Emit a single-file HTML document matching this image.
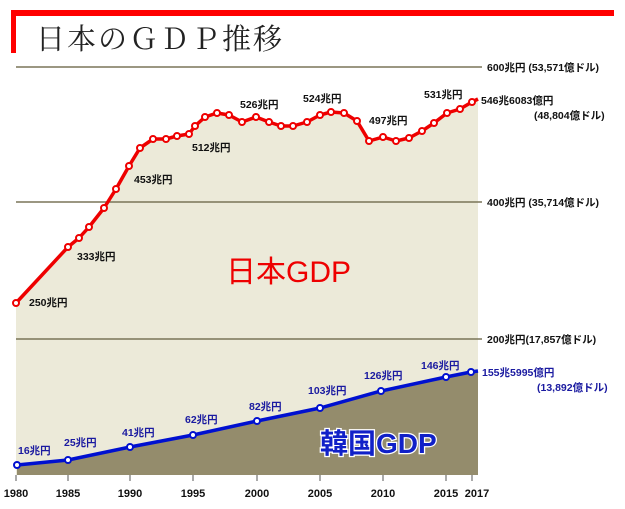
<!DOCTYPE html>
<html><head><meta charset="utf-8"><style>
html,body{margin:0;padding:0;background:#fff;width:625px;height:509px;overflow:hidden}
svg text{font-family:"Liberation Sans","Noto Sans CJK JP",sans-serif}
</style></head><body>
<svg width="625" height="509" viewBox="0 0 625 509" xmlns="http://www.w3.org/2000/svg">
<rect x="11" y="10" width="603" height="6" fill="#f00"/>
<rect x="11" y="10" width="5" height="43" fill="#f00"/>
<text x="36" y="49" font-size="29" fill="#222" style="font-family:'Liberation Serif','Noto Serif CJK SC',serif" letter-spacing="2">日本のＧＤＰ推移</text>
<polygon fill="#ecead9" points="16,303 68,247 79,238 89,227 104,208 116,189 129,166 140,148 153,139 166,139 177,136 189,134 195,126 205,117 217,113 229,115 242,122 256,117 269,122 281,126 293,126 307,122 320,115 331,112 344,113 357,121 369,141 383,137 396,141 409,138 422,131 434,123 447,113 460,109 472,102 478,99 478,475 16,475"/>
<g stroke="#7a7558" stroke-width="1.5">
<line x1="16" y1="67" x2="482" y2="67"/>
<line x1="16" y1="202" x2="482" y2="202"/>
<line x1="16" y1="339" x2="482" y2="339"/>
</g>
<polygon fill="#948c6c" points="17,465 68,460 130,447 193,435 257,421 320,408 381,391 446,377 471,372 478,371 478,475 17,475"/>
<g stroke="#555" stroke-width="1">
<line x1="16" y1="475" x2="16" y2="481"/><line x1="68" y1="475" x2="68" y2="481"/><line x1="130" y1="475" x2="130" y2="481"/><line x1="193" y1="475" x2="193" y2="481"/><line x1="257" y1="475" x2="257" y2="481"/><line x1="320" y1="475" x2="320" y2="481"/><line x1="383" y1="475" x2="383" y2="481"/><line x1="446" y1="475" x2="446" y2="481"/><line x1="472" y1="475" x2="472" y2="481"/>
</g>
<g font-size="11" fill="#111" text-anchor="middle" font-weight="bold">
<text x="16" y="497">1980</text><text x="68" y="497">1985</text><text x="130" y="497">1990</text><text x="193" y="497">1995</text><text x="257" y="497">2000</text><text x="320" y="497">2005</text><text x="383" y="497">2010</text><text x="446" y="497">2015</text><text x="477" y="497">2017</text>
</g>
<g font-size="10.5" fill="#111" font-weight="bold">
<text x="487" y="71">600兆円 (53,571億ドル)</text>
<text x="487" y="206">400兆円 (35,714億ドル)</text>
<text x="487" y="343">200兆円(17,857億ドル)</text>
<text x="481" y="104">546兆6083億円</text>
<text x="534" y="119">(48,804億ドル)</text>
</g>
<g font-size="10.5" fill="#111" font-weight="bold">
<text x="29" y="306">250兆円</text>
<text x="77" y="260">333兆円</text>
<text x="134" y="183">453兆円</text>
<text x="192" y="151">512兆円</text>
<text x="240" y="108">526兆円</text>
<text x="303" y="102">524兆円</text>
<text x="369" y="124">497兆円</text>
<text x="424" y="98">531兆円</text>
</g>
<g font-size="10.5" fill="#1a1aa0" font-weight="bold">
<text x="18" y="454">16兆円</text>
<text x="64" y="446">25兆円</text>
<text x="122" y="436">41兆円</text>
<text x="185" y="423">62兆円</text>
<text x="249" y="410">82兆円</text>
<text x="308" y="394">103兆円</text>
<text x="364" y="379">126兆円</text>
<text x="421" y="369">146兆円</text>
<text x="482" y="376">155兆5995億円</text>
<text x="537" y="391">(13,892億ドル)</text>
</g>
<polyline fill="none" stroke="#e00" stroke-width="3.5" stroke-linejoin="round" points="16,303 68,247 79,238 89,227 104,208 116,189 129,166 140,148 153,139 166,139 177,136 189,134 195,126 205,117 217,113 229,115 242,122 256,117 269,122 281,126 293,126 307,122 320,115 331,112 344,113 357,121 369,141 383,137 396,141 409,138 422,131 434,123 447,113 460,109 472,102 478,99"/>
<g fill="#fff" stroke="#e00" stroke-width="2">
<circle cx="16" cy="303" r="3"/><circle cx="68" cy="247" r="3"/><circle cx="79" cy="238" r="3"/><circle cx="89" cy="227" r="3"/><circle cx="104" cy="208" r="3"/><circle cx="116" cy="189" r="3"/><circle cx="129" cy="166" r="3"/><circle cx="140" cy="148" r="3"/><circle cx="153" cy="139" r="3"/><circle cx="166" cy="139" r="3"/><circle cx="177" cy="136" r="3"/><circle cx="189" cy="134" r="3"/><circle cx="195" cy="126" r="3"/><circle cx="205" cy="117" r="3"/><circle cx="217" cy="113" r="3"/><circle cx="229" cy="115" r="3"/><circle cx="242" cy="122" r="3"/><circle cx="256" cy="117" r="3"/><circle cx="269" cy="122" r="3"/><circle cx="281" cy="126" r="3"/><circle cx="293" cy="126" r="3"/><circle cx="307" cy="122" r="3"/><circle cx="320" cy="115" r="3"/><circle cx="331" cy="112" r="3"/><circle cx="344" cy="113" r="3"/><circle cx="357" cy="121" r="3"/><circle cx="369" cy="141" r="3"/><circle cx="383" cy="137" r="3"/><circle cx="396" cy="141" r="3"/><circle cx="409" cy="138" r="3"/><circle cx="422" cy="131" r="3"/><circle cx="434" cy="123" r="3"/><circle cx="447" cy="113" r="3"/><circle cx="460" cy="109" r="3"/><circle cx="472" cy="102" r="3"/>
</g>
<polyline fill="none" stroke="#0010d0" stroke-width="3.5" points="17,465 68,460 130,447 193,435 257,421 320,408 381,391 446,377 471,372 478,371"/>
<g fill="#fff" stroke="#0010d0" stroke-width="2">
<circle cx="17" cy="465" r="3"/><circle cx="68" cy="460" r="3"/><circle cx="130" cy="447" r="3"/><circle cx="193" cy="435" r="3"/><circle cx="257" cy="421" r="3"/><circle cx="320" cy="408" r="3"/><circle cx="381" cy="391" r="3"/><circle cx="446" cy="377" r="3"/><circle cx="471" cy="372" r="3"/>
</g>
<text x="226" y="282" font-size="30" fill="#e00">日本GDP</text>
<text x="320" y="453" font-size="28" font-weight="bold" fill="#1020c8" stroke="#fff" stroke-width="2.5" paint-order="stroke">韓国GDP</text>
</svg>
</body></html>
